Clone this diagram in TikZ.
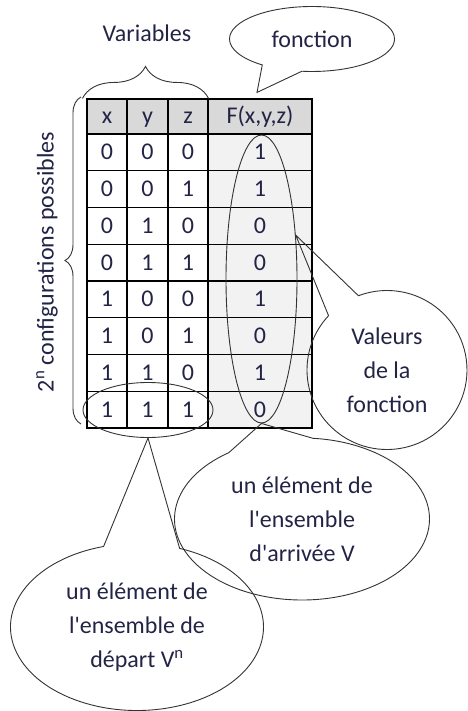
\documentclass[tikz,border=0pt]{standalone}
\usepackage{fontspec}
\setmainfont{Carlito}
\usetikzlibrary{shapes.geometric, shapes.callouts, decorations.pathreplacing}
\definecolor{texte}{RGB}{35,35,70}
\definecolor{entete}{RGB}{217,217,217}
\definecolor{colf}{RGB}{242,242,242}
\tikzset{cell/.style = {draw, line width=1.1pt, inner sep=0pt, minimum height=36.75pt, text height=15pt, text depth=0pt, text=texte}}
\tikzset{bulle/.style = {ellipse callout, draw=black!80, line width=0.9pt, inner sep=0pt, align=center, text=texte}}
\tikzset{entoure/.style = {ellipse, draw=black!80, line width=0.9pt, inner sep=0pt}}
\tikzset{accolade/.style = {draw=black!80, line width=0.9pt, decorate, decoration={brace, amplitude=#1}}}

\begin{document}
\begin{tikzpicture}[x=1pt, y=-1pt, font=\fontsize{24}{34}\selectfont]
                    \useasboundingbox (0,0) rectangle (467,711);

                    \foreach \c/\x/\w/\t in {1/107/40/x, 2/147.5/41/y, 3/188/40/z, 4/260/104/{F(x,y,z)}} {
                      \node[cell, fill=entete, minimum width=\w pt, minimum height=35pt] (h\c) at (\x,116.5) {\t};
                    }
                    \foreach \r/\a/\b/\c/\f in {1/0/0/0/1, 2/0/0/1/1, 3/0/1/0/0, 4/0/1/1/0, 5/1/0/0/1, 6/1/0/1/0, 7/1/1/0/1, 8/1/1/1/0} {
                      \pgfmathsetmacro\yy{134+(\r-0.5)*36.75}
                      \node[cell, minimum width=40pt] (x\r) at (107,\yy) {\a};
                      \node[cell, minimum width=41pt] (y\r) at (147.5,\yy) {\b};
                      \node[cell, minimum width=40pt] (z\r) at (188,\yy) {\c};
                      \node[cell, fill=colf, minimum width=104pt] (f\r) at (260,\yy) {\f};
                    }

                    \node[entoure, minimum width=71pt, minimum height=288pt] (fcol) at (261.5,279) {};
                    \node[entoure, minimum width=130pt, minimum height=55pt] (xyz) at (148,410) {};

                    \node[text=texte] (variables) at (147,33) {Variables};
                    \draw[accolade=32pt] ([xshift=-4pt]h1.north west) -- (h3.north east);
                    \node[text=texte, rotate=90] (config) at (47,262) {2\textsuperscript{n} configurations possibles};
                    \draw[accolade=16pt] (81,424) -- (81,97);

                    \node[bulle, minimum width=165pt, minimum height=65pt, callout absolute pointer={([xshift=-3pt, yshift=6pt]h4.north)}, callout pointer arc=30] (bfonction) at (312,39) {fonction};
                    \node[bulle, minimum width=160pt, minimum height=159pt, callout absolute pointer={(fcol.52)}, callout pointer arc=26] (bvaleurs) at (387,370) {Valeurs\\de la\\fonction};
                    \node[bulle, minimum width=255pt, minimum height=162pt, callout absolute pointer={(fcol.south)}, callout pointer arc=40] (barrivee) at (302,519) {un élément de\\l\textquotesingle ensemble\\d\textquotesingle arrivée V};
                    \node[bulle, minimum width=253pt, minimum height=167pt, callout absolute pointer={(xyz.south)}, callout pointer arc=35] (bdepart) at (137,627) {un élément de\\l\textquotesingle ensemble de\\départ V\textsuperscript{n}};
                  \end{tikzpicture}
\end{document}
